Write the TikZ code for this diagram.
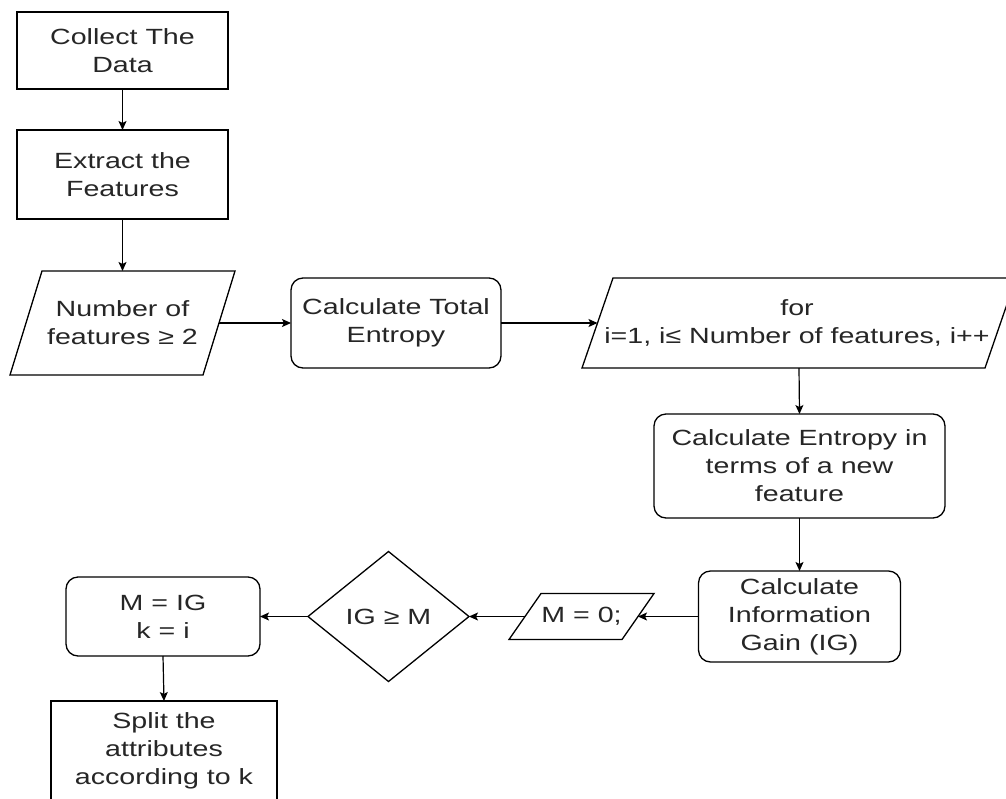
\documentclass[tikz,border=0pt]{standalone}
\usepackage{fontspec}
\setmainfont{Liberation Sans}[FakeStretch=1.3]
\usetikzlibrary{arrows.meta,shapes.geometric}
\newcommand\flowfont{\fontsize{22}{28}\selectfont}
\tikzset{
  base/.style={align=center, font=\flowfont, text=black!85, inner sep=0pt, outer sep=0pt},
  sqbox/.style={base, draw=black, line width=1.3pt, fill=white},
  rndbox/.style={sqbox, rounded corners=12pt},
  parabox/.style={base},
  decide/.style={base, shape=diamond, draw=black, line width=1.3pt, fill=white},
  outline/.style={draw=black, line width=1.3pt, fill=white},
  arr/.style={line width=1.2pt, -{Stealth[length=9pt,width=8pt,inset=2pt]}},
}
\begin{document}
\begin{tikzpicture}[x=1pt,y=-1pt]
\useasboundingbox (0,0) rectangle (1006,798);
\clip (0,0) rectangle (1006,798);
\fill[white] (0,0) rectangle (1006,798);

% rectangles
\node[sqbox, minimum width=211pt, minimum height=77pt] (collect) at (122.5,50.5) {Collect The\\Data};
\node[sqbox, minimum width=211pt, minimum height=89pt] (extract) at (122.5,174.5) {Extract the\\Features};

% parallelogram: Number of features
\node[parabox, minimum width=193pt, minimum height=104pt] (num) at (122.5,323) {};
\path[outline] ([xshift=-16pt]num.south west) -- ([xshift=16pt]num.north west) -- ([xshift=16pt]num.north east) -- ([xshift=-16pt]num.south east) -- cycle;
\node[base] (numtext) at (num.center) {Number of\\features ≥ 2};

% rounded: total entropy
\node[rndbox, minimum width=210pt, minimum height=90pt] (total) at (396,323) {Calculate Total\\Entropy};

% parallelogram: for loop
\node[parabox, minimum width=403pt, minimum height=90pt] (forp) at (799,323) {};
\path[outline] ([xshift=-15.5pt]forp.south west) -- ([xshift=15.5pt]forp.north west) -- ([xshift=15.5pt]forp.north east) -- ([xshift=-15.5pt]forp.south east) -- cycle;
\node[base] (fortext) at ([xshift=-2pt]forp.center) {for\\i=1, i≤ Number of features, i++};

% rounded: entropy
\node[rndbox, minimum width=291pt, minimum height=104pt] (entropy) at (799.5,466) {Calculate Entropy in\\terms of a new\\feature};

% rounded: information gain
\node[rndbox, minimum width=202pt, minimum height=91pt] (ig) at (799.5,616.5) {Calculate\\Information\\Gain (IG)};

% parallelogram: M = 0
\node[parabox, minimum width=113pt, minimum height=46pt] (mzero) at (581.5,616.5) {};
\path[outline] ([xshift=-16pt]mzero.south west) -- ([xshift=16pt]mzero.north west) -- ([xshift=16pt]mzero.north east) -- ([xshift=-16pt]mzero.south east) -- cycle;
\node[base] (mzerotext) at (mzero.center) {M = 0;};

% decision
\node[decide, minimum width=161pt, minimum height=130pt] (dia) at (388.5,616.5) {IG ≥ M};

% rounded: M = IG
\node[rndbox, minimum width=194pt, minimum height=79pt] (mig) at (163,616.5) {M = IG\\k = i};

% split
\node[sqbox, minimum width=226pt, minimum height=100pt] (split) at (164,751) {Split the\\attributes\\according to k};

% connectors
\draw[arr] (collect.south) -- (extract.north);
\draw[arr] (extract.south) -- (num.north);
\draw[arr] (num.east) -- (total.west);
\draw[arr] (total.east) -- (forp.west);
\draw[arr] (forp.south) -- (entropy.north);
\draw[arr] (entropy.south) -- (ig.north);
\draw[arr] (ig.west) -- (mzero.east);
\draw[arr] (mzero.west) -- (dia.east);
\draw[arr] (dia.west) -- (mig.east);
\draw[arr] (mig.south) -- (split.north);
\end{tikzpicture}
\end{document}
